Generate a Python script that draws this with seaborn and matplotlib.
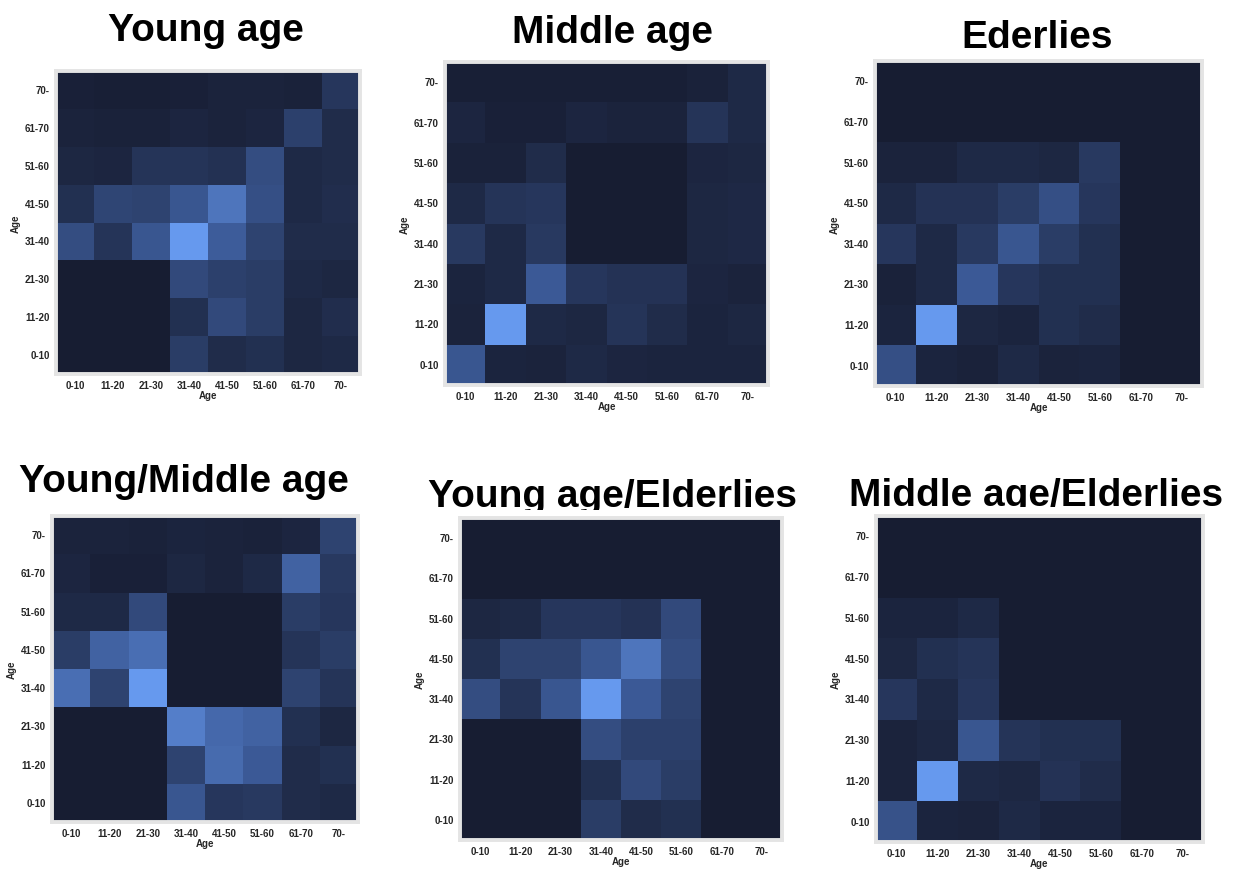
import numpy as np
import pandas as pd
import matplotlib
matplotlib.use("Agg")
import matplotlib.pyplot as plt
import seaborn as sns
from matplotlib.colors import LinearSegmentedColormap
from matplotlib.patches import Rectangle

sns.set_style("white")
plt.rcParams['font.family'] = ['Liberation Sans', 'DejaVu Sans']

age_labels = ["0-10", "11-20", "21-30", "31-40", "41-50", "51-60", "61-70", "70-"]
row_labels = age_labels[::-1]  # top to bottom

titles = ["Young age", "Middle age", "Ederlies",
          "Young/Middle age", "Young age/Elderlies", "Middle age/Elderlies"]

young = [
    [0.03, 0.02, 0.02, 0.03, 0.05, 0.05, 0.04, 0.20],
    [0.05, 0.04, 0.04, 0.07, 0.05, 0.07, 0.28, 0.12],
    [0.08, 0.07, 0.18, 0.18, 0.16, 0.38, 0.10, 0.12],
    [0.15, 0.32, 0.30, 0.45, 0.70, 0.40, 0.10, 0.13],
    [0.38, 0.18, 0.45, 1.00, 0.50, 0.30, 0.12, 0.12],
    [0.00, 0.00, 0.00, 0.35, 0.28, 0.25, 0.10, 0.08],
    [0.00, 0.00, 0.00, 0.15, 0.35, 0.25, 0.08, 0.13],
    [0.00, 0.00, 0.00, 0.25, 0.12, 0.15, 0.08, 0.10],
]
middle = [
    [0.02, 0.02, 0.02, 0.02, 0.02, 0.02, 0.04, 0.10],
    [0.07, 0.03, 0.03, 0.07, 0.05, 0.05, 0.18, 0.10],
    [0.04, 0.04, 0.12, 0.00, 0.00, 0.00, 0.07, 0.08],
    [0.10, 0.18, 0.20, 0.00, 0.00, 0.00, 0.08, 0.09],
    [0.22, 0.10, 0.22, 0.00, 0.00, 0.00, 0.08, 0.09],
    [0.06, 0.10, 0.48, 0.20, 0.17, 0.17, 0.07, 0.05],
    [0.05, 1.00, 0.10, 0.08, 0.18, 0.12, 0.06, 0.08],
    [0.45, 0.06, 0.05, 0.10, 0.07, 0.06, 0.06, 0.06],
]
elderly = [
    [0.00, 0.00, 0.00, 0.00, 0.00, 0.00, 0.00, 0.00],
    [0.00, 0.00, 0.00, 0.00, 0.00, 0.00, 0.00, 0.00],
    [0.05, 0.05, 0.10, 0.10, 0.08, 0.22, 0.00, 0.00],
    [0.10, 0.17, 0.17, 0.25, 0.40, 0.20, 0.00, 0.00],
    [0.20, 0.10, 0.22, 0.45, 0.25, 0.15, 0.00, 0.00],
    [0.04, 0.10, 0.48, 0.20, 0.15, 0.15, 0.00, 0.00],
    [0.06, 1.00, 0.08, 0.06, 0.15, 0.12, 0.00, 0.00],
    [0.40, 0.06, 0.04, 0.10, 0.05, 0.06, 0.00, 0.00],
]
young_middle = [
    [0.05, 0.05, 0.04, 0.06, 0.05, 0.04, 0.07, 0.30],
    [0.07, 0.03, 0.03, 0.08, 0.05, 0.10, 0.55, 0.22],
    [0.10, 0.10, 0.35, 0.00, 0.00, 0.00, 0.25, 0.20],
    [0.25, 0.55, 0.65, 0.00, 0.00, 0.00, 0.18, 0.25],
    [0.65, 0.30, 1.00, 0.00, 0.00, 0.00, 0.30, 0.18],
    [0.00, 0.00, 0.00, 0.78, 0.60, 0.55, 0.15, 0.08],
    [0.00, 0.00, 0.00, 0.30, 0.62, 0.48, 0.12, 0.15],
    [0.00, 0.00, 0.00, 0.45, 0.20, 0.22, 0.12, 0.10],
]
young_elderly = [
    [0.00, 0.00, 0.00, 0.00, 0.00, 0.00, 0.00, 0.00],
    [0.00, 0.00, 0.00, 0.00, 0.00, 0.00, 0.00, 0.00],
    [0.08, 0.10, 0.20, 0.20, 0.17, 0.35, 0.00, 0.00],
    [0.15, 0.30, 0.30, 0.45, 0.70, 0.38, 0.00, 0.00],
    [0.38, 0.18, 0.45, 1.00, 0.48, 0.30, 0.00, 0.00],
    [0.00, 0.00, 0.00, 0.38, 0.28, 0.28, 0.00, 0.00],
    [0.00, 0.00, 0.00, 0.15, 0.35, 0.25, 0.00, 0.00],
    [0.00, 0.00, 0.00, 0.25, 0.12, 0.15, 0.00, 0.00],
]
middle_elderly = [
    [0.00, 0.00, 0.00, 0.00, 0.00, 0.00, 0.00, 0.00],
    [0.00, 0.00, 0.00, 0.00, 0.00, 0.00, 0.00, 0.00],
    [0.06, 0.06, 0.10, 0.00, 0.00, 0.00, 0.00, 0.00],
    [0.08, 0.15, 0.18, 0.00, 0.00, 0.00, 0.00, 0.00],
    [0.20, 0.10, 0.20, 0.00, 0.00, 0.00, 0.00, 0.00],
    [0.05, 0.08, 0.45, 0.18, 0.15, 0.15, 0.00, 0.00],
    [0.05, 1.00, 0.10, 0.08, 0.17, 0.12, 0.00, 0.00],
    [0.42, 0.06, 0.05, 0.10, 0.06, 0.06, 0.00, 0.00],
]
matrices = [young, middle, elderly, young_middle, young_elderly, middle_elderly]

cmap = LinearSegmentedColormap.from_list("navy_blue", ["#171d32", "#3d5c9a", "#6699ee"])

W, H = 1235, 870
fig = plt.figure(figsize=(W / 100, H / 100), dpi=100)
fig.patch.set_facecolor("white")

# (left, top, right, bottom) of heatmap area in pixels
boxes = [
    (56, 72, 360, 375),
    (445, 63, 768, 386),
    (875, 62, 1202, 387),
    (52, 517, 358, 823),
    (460, 519, 782, 841),
    (876, 517, 1203, 843),
]
# (center x, baseline y) in pixels
title_pos = [(206, 41), (612, 43), (1037, 48), (184, 492), (612, 507), (1036, 506)]
title_clip = [None, None, None, None, 511, 508]

for i, (mat, title) in enumerate(zip(matrices, titles)):
    l, t, r, b = boxes[i]
    ax = fig.add_axes([l / W, 1 - b / H, (r - l) / W, (b - t) / H])
    df = pd.DataFrame(mat, index=row_labels, columns=age_labels)
    sns.heatmap(df, ax=ax, cmap=cmap, vmin=0, vmax=1, cbar=False,
                linewidths=0, square=False)
    for s in ax.spines.values():
        s.set_visible(True)
        s.set_color("#e4e4e4")
        s.set_linewidth(2.8)
    ax.tick_params(axis="both", length=2.5, width=0.8, color="#bbbbbb", pad=2)
    ax.set_xticklabels(age_labels, fontsize=7, fontweight="bold", rotation=0)
    ax.set_yticklabels(row_labels, fontsize=7, fontweight="bold", rotation=0)
    ax.set_xlabel("Age", fontsize=7, fontweight="bold", labelpad=0)
    ax.set_ylabel("Age", fontsize=7, fontweight="bold", labelpad=3)

    tx, ty = title_pos[i]
    fig.text(tx / W, 1 - ty / H, title, ha="center", va="baseline",
             fontsize=28, fontweight="bold", color="black", zorder=3)
    if title_clip[i] is not None:
        cy = title_clip[i]
        bottom = t - 2
        mask = Rectangle(((l - 40) / W, 1 - bottom / H), (r - l + 80) / W, (bottom - cy) / H,
                         transform=fig.transFigure, facecolor="white",
                         edgecolor="none", zorder=4)
        fig.patches.append(mask)

fig.savefig("out.png", dpi=100, facecolor="white")
